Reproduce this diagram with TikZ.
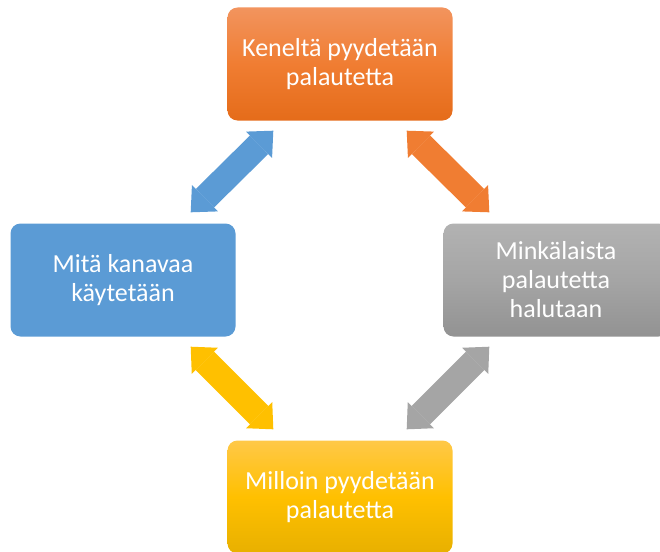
\documentclass[tikz,border=0pt]{standalone}
\usepackage{fontspec}
\setmainfont{Carlito}
\usetikzlibrary{
	arrows.meta,
	calc,
	positioning
}
\definecolor{OrangeTop}{RGB}{242,148,94}
\definecolor{OrangeMid}{RGB}{240,125,50}
\definecolor{OrangeBottom}{RGB}{229,108,26}
\definecolor{BlueFlat}{RGB}{91,155,213}
\definecolor{GrayTop}{RGB}{178,178,178}
\definecolor{GrayMid}{RGB}{165,165,165}
\definecolor{GrayBottom}{RGB}{146,146,146}
\definecolor{YellowTop}{RGB}{255,200,72}
\definecolor{YellowMid}{RGB}{255,192,0}
\definecolor{YellowBottom}{RGB}{232,176,0}

\begin{document}
\begin{tikzpicture}[
			x=1pt, y=-1pt,
			BoxStyle/.style={rounded corners=10pt, minimum width=225pt,
				minimum height=113pt, inner sep=0pt, align=center, text=white,
				font=\fontsize{26}{29}\selectfont},
			ArrowStyle/.style={line width=26pt,
				{Triangle[width=37pt, length=20pt, line width=0pt]}-{Triangle[width=37pt, length=20pt, line width=0pt]}}]
			\useasboundingbox (0,0) rectangle (660,551);
			\node [BoxStyle, top color=OrangeTop, bottom color=OrangeBottom, middle color=OrangeMid] (who) at (340,64) {Keneltä pyydetään\\palautetta};
			\node [BoxStyle, fill=BlueFlat] (channel) at (123,280) {Mitä kanavaa\\käytetään};
			\node [BoxStyle, top color=GrayTop, bottom color=GrayBottom, middle color=GrayMid] (what) at (556,280) {Minkälaista\\palautetta\\halutaan};
			\node [BoxStyle, top color=YellowTop, bottom color=YellowBottom, middle color=YellowMid] (when) at (340,497) {Milloin pyydetään\\palautetta};
			% arrows between the boxes
			\draw [ArrowStyle, BlueFlat] ($(who.south west)+(46,10)$) to ($(channel.north east)+(-45,-11)$);
			\draw [ArrowStyle, OrangeMid] ($(who.south east)+(-46,10)$) to ($(what.north west)+(46,-11)$);
			\draw [ArrowStyle, GrayMid] ($(what.south west)+(46,10)$) to ($(when.north east)+(-46,-11)$);
			\draw [ArrowStyle, YellowMid] ($(channel.south east)+(-45,10)$) to ($(when.north west)+(46,-11)$);
		\end{tikzpicture}
\end{document}
